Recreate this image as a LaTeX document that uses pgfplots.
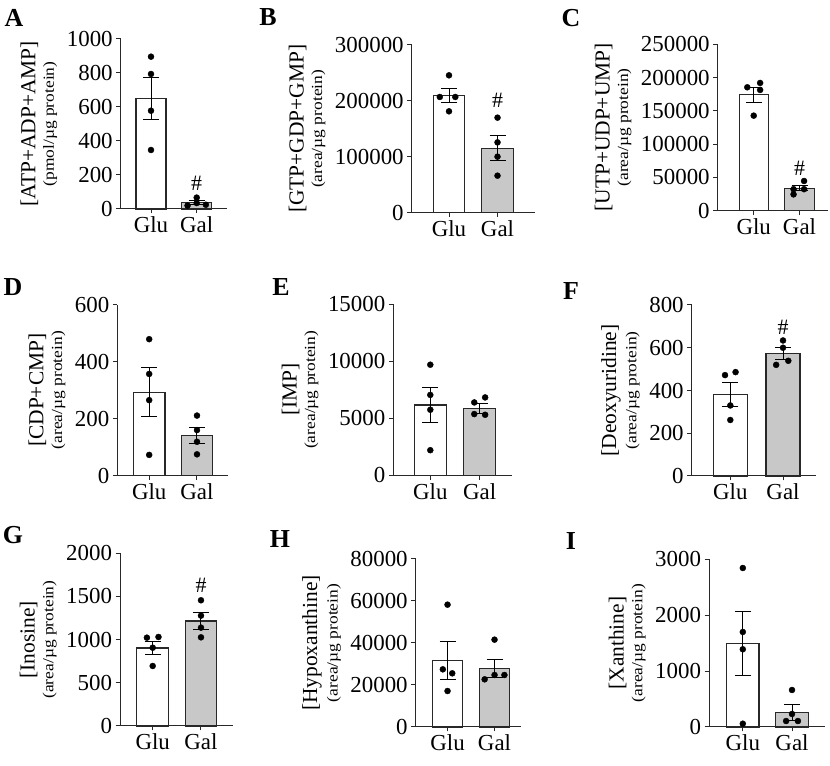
\documentclass[border=0pt]{standalone}
\usepackage{fontspec}
\setmainfont{Liberation Serif}
\usepackage{graphicx}
\usepackage{pgfplots}
\pgfplotsset{compat=1.18}
\definecolor{galgray}{RGB}{200,200,200}
\definecolor{edge}{RGB}{40,40,40}
\newcommand{\ylab}[2]{{\fontsize{21.5}{22}\selectfont #1}\\[4bp]\scalebox{1.13}[1]{\fontsize{15.5}{15.5}\selectfont #2}}
\newcommand{\bars}[4]{%
\addplot[ybar, fill=white, draw=edge, line width=1.1bp, error bars/.cd, y dir=both, y explicit, error bar style={line width=1bp,black}, error mark options={rotate=90,mark size=8bp,line width=1bp}] coordinates {(0,#1) +- (0,#2)};
\addplot[ybar, fill=galgray, draw=edge, line width=1.1bp, error bars/.cd, y dir=both, y explicit, error bar style={line width=1bp,black}, error mark options={rotate=90,mark size=8bp,line width=1bp}] coordinates {(1,#3) +- (0,#4)};
}
\pgfplotsset{
  panel/.style={
    scale only axis, anchor=south west,
    axis lines=left, axis line style={-, line width=1bp, edge},
    tick style={line width=1bp, edge},
    tick align=outside, major tick length=4.5bp,
    ymin=0, xtick={0,1}, xticklabels={Glu,Gal},
    ticklabel style={font=\fontsize{23}{23}\selectfont},
    scaled y ticks=false,
    yticklabel style={/pgf/number format/fixed, /pgf/number format/1000 sep={}},
    /pgf/number format/assume math mode=true,
    ylabel style={align=center, inner sep=6bp},
    clip=false,
  },
  dots/.style={only marks, mark=*, mark size=3bp, black},
}
\tikzset{hash/.style={font=\fontsize{22}{22}\selectfont}}
\begin{document}
\begin{tikzpicture}[x=1bp,y=1bp]
\path[use as bounding box] (0,0) rectangle (830,766);
\tikzset{let/.style={font=\fontsize{26}{26}\selectfont\bfseries}}
\node[let] at (14,748) {A};
\node[let] at (268,749) {B};
\node[let] at (571,748) {C};
\node[let] at (13,479) {D};
\node[let] at (281,479) {E};
\node[let] at (571,475) {F};
\node[let] at (13,231) {G};
\node[let] at (280,227) {H};
\node[let] at (571,225) {I};

% A
\begin{axis}[panel, at={(120.7bp,557bp)}, width=106.3bp, height=170bp,
  xmin=-0.663, xmax=1.663, bar width=0.656, ymax=1000, ytick={0,200,...,1000},
  ylabel={\ylab{[ATP+ADP+AMP]}{(pmol/µg protein)}}]
\bars{651}{122}{37}{10}
\addplot[dots] coordinates {(0,896) (0,794) (0,578) (0,347) (0.8,20) (1,35) (1.2,25) (1,67)};
\node[hash] at (axis cs:1,151) {\#};
\end{axis}

% B
\begin{axis}[panel, at={(411.7bp,553.3bp)}, width=123.3bp, height=167.7bp,
  xmin=-0.769, xmax=1.773, bar width=0.65, ymax=300000, ytick={0,100000,200000,300000},
  ylabel={\ylab{[GTP+GDP+GMP]}{(area/µg protein)}}]
\bars{209300}{13000}{115500}{22000}
\addplot[dots] coordinates {(0,245700) (-0.19,207000) (0.13,207000) (0,181300) (1,170000) (1,125800) (1,100200) (1,66200)};
\node[hash] at (axis cs:1,201600) {\#};
\end{axis}

% C
\begin{axis}[panel, at={(717.7bp,555.3bp)}, width=110.6bp, height=166.4bp,
  xmin=-0.786, xmax=1.629, bar width=0.64, ymax=250000, ytick={0,50000,...,250000},
  ylabel={\ylab{[UTP+UDP+UMP]}{(area/µg protein)}}]
\bars{174400}{11300}{33700}{3500}
\addplot[dots] coordinates {(0.14,191900) (-0.14,185400) (0.14,181400) (0,142800) (1.1,44600) (0.87,32300) (1.1,32300) (0.87,24500)};
\node[hash] at (axis cs:1,63600) {\#};
\end{axis}

% D
\begin{axis}[panel, at={(117.3bp,290.3bp)}, width=111bp, height=171bp,
  xmin=-0.667, xmax=1.655, bar width=0.66, ymax=600, ytick={0,200,400,600},
  ylabel={\ylab{[CDP+CMP]}{(area/µg protein)}}]
\bars{293}{85}{140}{28}
\addplot[dots] coordinates {(0,479) (0,357) (0,265) (0,73) (1,211) (1,160) (1,119) (1,75)};
\end{axis}

% E
\begin{axis}[panel, at={(393.3bp,290.7bp)}, width=118.7bp, height=171bp,
  xmin=-0.749, xmax=1.654, bar width=0.65, ymax=15000, ytick={0,5000,10000,15000},
  ylabel={\ylab{[IMP]}{(area/µg protein)}}]
\bars{6170}{1540}{5840}{435}
\addplot[dots] coordinates {(0,9700) (0,7050) (0,5750) (0,2200) (0.89,6390) (1.11,6830) (0.89,5370) (1.11,5310)};
\end{axis}

% F
\begin{axis}[panel, at={(691.7bp,290bp)}, width=124.3bp, height=171bp,
  xmin=-0.732, xmax=1.626, bar width=0.645, ymax=800, ytick={0,200,...,800},
  ylabel={\ylab{[Deoxyuridine]}{(area/µg protein)}}]
\bars{383}{56}{573}{27}
\addplot[dots] coordinates {(-0.1,472) (0.1,486) (0,330) (0,262) (1,634) (1,600) (0.87,520) (1.1,539)};
\node[hash] at (axis cs:1,697) {\#};
\end{axis}

% G
\begin{axis}[panel, at={(120bp,40bp)}, width=113.3bp, height=172.7bp,
  xmin=-0.677, xmax=1.669, bar width=0.66, ymax=2000, ytick={0,500,...,2000},
  ylabel={\ylab{[Inosine]}{(area/µg protein)}}]
\bars{903}{74}{1216}{93}
\addplot[dots] coordinates {(-0.12,1023) (0.12,1031) (0,907) (0,695) (1,1456) (1,1278) (1,1139) (1,1027)};
\node[hash] at (axis cs:1,1633) {\#};
\end{axis}

% H
\begin{axis}[panel, at={(415.7bp,39bp)}, width=105bp, height=168bp,
  xmin=-0.677, xmax=1.557, bar width=0.65, ymax=80000, ytick={0,20000,...,80000},
  ylabel={\ylab{[Hypoxanthine]}{(area/µg protein)}}]
\bars{31600}{9000}{27940}{4400}
\addplot[dots] coordinates {(0,58250) (-0.1,27460) (0.1,25560) (0,17140) (1,41590) (0.79,22700) (1,24760) (1.21,24760)};
\end{axis}

% I
\begin{axis}[panel, at={(709bp,39bp)}, width=116bp, height=167.7bp,
  xmin=-0.687, xmax=1.671, bar width=0.66, ymax=3000, ytick={0,1000,2000,3000},
  ylabel={\ylab{[Xanthine]}{(area/µg protein)}}]
\bars{1490}{575}{256}{138}
\addplot[dots] coordinates {(0,2844) (0,1700) (0,1390) (0,59) (1,662) (1,233) (0.88,107) (1.12,107)};
\end{axis}
\end{tikzpicture}
\end{document}
